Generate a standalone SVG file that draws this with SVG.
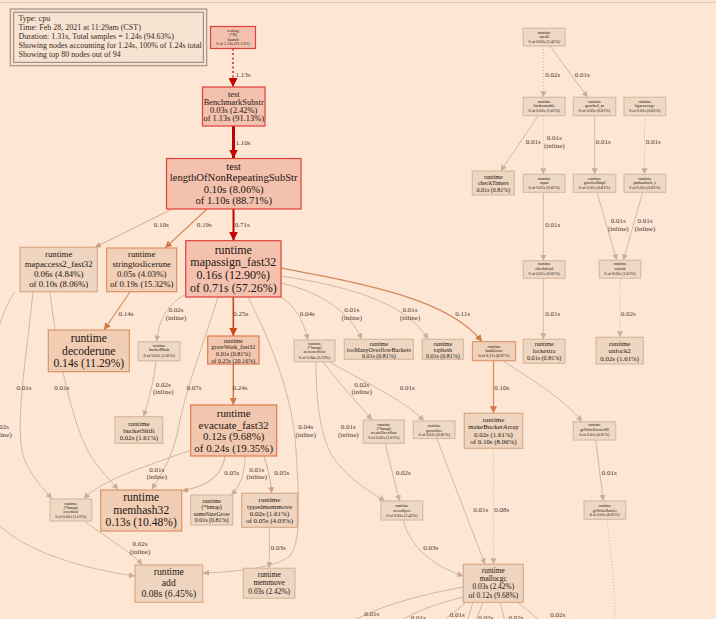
<svg xmlns="http://www.w3.org/2000/svg" width="716" height="619" viewBox="0 0 716 619">
<style>
text{font-family:"Liberation Serif","Times New Roman",serif;text-anchor:middle;fill:#1e1612}
.lg text{text-anchor:start;fill:#3a2a22}
.el text{font-size:7px;fill:#4a3a32}
.hot{fill:#f3c1ad;stroke:#e0403a}
.org{fill:#f2c7af;stroke:#e07a4c}
.sts{fill:#f2d0b8;stroke:#e09063}
.dec{fill:#f0cdb3;stroke:#d99468}
.mid{fill:#efd5bf;stroke:#d6aa88}
.hg{fill:#f1d1b9;stroke:#dc9a6e}
.cool{fill:#efd8c4;stroke:#d8bca6}
.leaf{fill:#efd6c1;stroke:#d8b99f}
rect{stroke-width:1.2}
.e{fill:none;stroke:#d0b8a4;stroke-width:1;marker-end:url(#mg)}
.et{fill:none;stroke:#d2aa8a;stroke-width:1;marker-end:url(#mt)}
.eo{fill:none;stroke:#d58a5c;stroke-width:1.1;marker-end:url(#mo)}
.d{stroke-dasharray:1,2}
</style>
<defs>
<marker id="mg" viewBox="0 0 10 10" refX="10" refY="5" markerUnits="userSpaceOnUse" markerWidth="6" markerHeight="6" orient="auto"><path d="M0,0L10,5L0,10z" fill="#c9ae98"/></marker>
<marker id="mt" viewBox="0 0 10 10" refX="10" refY="5" markerUnits="userSpaceOnUse" markerWidth="6" markerHeight="6" orient="auto"><path d="M0,0L10,5L0,10z" fill="#cf9f7c"/></marker>
<marker id="mo" viewBox="0 0 10 10" refX="10" refY="5" markerUnits="userSpaceOnUse" markerWidth="7" markerHeight="7" orient="auto"><path d="M0,0L10,5L0,10z" fill="#d07a48"/></marker>
<marker id="mr" viewBox="0 0 10 10" refX="10" refY="5" markerUnits="userSpaceOnUse" markerWidth="9" markerHeight="9" orient="auto"><path d="M0,0L10,5L0,10z" fill="#c40000"/></marker>
<marker id="mro" viewBox="0 0 10 10" refX="10" refY="5" markerUnits="userSpaceOnUse" markerWidth="8" markerHeight="8" orient="auto"><path d="M0,0L10,5L0,10z" fill="#c84818"/></marker>
</defs>
<rect x="0" y="0" width="716" height="619" fill="#fee6d4"/>
<line x1="0" y1="2.5" x2="716" y2="2.5" stroke="#e4c8b4" stroke-width="1"/>

<g id="legend" class="lg">
<rect x="10.3" y="9" width="196.4" height="56.7" fill="#f7e3d2" stroke="#a59282" stroke-width="2.2"/>
<rect x="13.6" y="12.3" width="189.8" height="50.1" fill="none" stroke="#a59282" stroke-width="1"/>
<text x="18.5" y="21" font-size="8">Type: cpu</text>
<text x="18.5" y="30" font-size="8">Time: Feb 28, 2021 at 11:29am (CST)</text>
<text x="18.5" y="38.8" font-size="8">Duration: 1.31s, Total samples = 1.24s (94.63%)</text>
<text x="18.5" y="47.7" font-size="8">Showing nodes accounting for 1.24s, 100% of 1.24s total</text>
<text x="18.5" y="56.5" font-size="8">Showing top 80 nodes out of 94</text>
</g>

<g id="edges">
<path d="M233,48.5L233,87" fill="none" stroke="#e05050" stroke-width="2" stroke-dasharray="2,2.5" marker-end="url(#mr)"/>
<path d="M233.5,126L233.5,158.5" fill="none" stroke="#c00000" stroke-width="3" marker-end="url(#mr)"/>
<path d="M233.5,209L233.5,240.7" fill="none" stroke="#c40000" stroke-width="2" marker-end="url(#mr)"/>
<path d="M172,209L95,247.3" class="et"/>
<path d="M207,209L165,248" class="eo"/>
<path d="M130,292L104,330" class="eo"/>
<path d="M15,292C-15,330 -25,470 -5,520C20,552 90,570 135,576" class="e"/>
<path d="M33,292C26,360 14,430 24,458C30,474 42,488 52,498.5" class="e"/>
<path d="M50,292C55,340 70,420 90,455C100,470 110,480 118,489.5" class="e"/>
<path d="M188,293C170,302 158,318 157,341.5" class="e"/>
<path d="M156,361C154,380 149,400 143.5,416.5" class="e"/>
<path d="M233.3,297L233.3,336" fill="none" stroke="#c84818" stroke-width="1.6" marker-end="url(#mro)"/>
<path d="M233.3,364L233.3,405" fill="none" stroke="#d06a3a" stroke-width="1.3" marker-end="url(#mo)"/>
<path d="M218,297C205,340 185,390 178,430C172,460 160,475 152,489.5" class="e"/>
<path d="M248,297C275,350 293,400 296,450C299,500 302,540 290,556C275,568 235,572 203,573" class="e"/>
<path d="M278,295C295,305 303,320 308,340" class="e"/>
<path d="M281,283C320,292 348,310 362,339.3" class="e"/>
<path d="M281,276C340,285 405,300 428,339.3" class="e"/>
<path d="M281,268C370,285 450,300 482,341.7" fill="none" stroke="#cf8a5c" stroke-width="1.2" marker-end="url(#mo)"/>
<path d="M493.5,361L493.5,413.3" fill="none" stroke="#cf8a5c" stroke-width="1.2" marker-end="url(#mo)"/>
<path d="M503,361C530,378 565,400 582,421.7" class="e"/>
<path d="M323,362C340,385 360,405 372,420" class="e"/>
<path d="M328,361C360,380 405,400 424,421" class="e"/>
<path d="M316,362C316,400 320,440 335,460C350,480 370,492 385,501" class="e"/>
<path d="M385,443L399.5,501" class="e"/>
<path d="M437,439L485,564.3" class="e"/>
<path d="M493.5,448.3L493.5,564.3" class="e d"/>
<path d="M403,520C410,545 430,565 463.3,576" class="e"/>
<path d="M191,450C150,465 100,480 84,499" class="e"/>
<path d="M225,456C222,475 210,485 182,491" class="et"/>
<path d="M245,456C245,470 242,485 231,495" class="e"/>
<path d="M264,456C268,470 271,480 271.5,493.3" class="et"/>
<path d="M269.3,527.3L269.3,568.3" class="e"/>
<path d="M85,521.5C110,540 135,555 142,565" class="e"/>
<path d="M543.3,46L543.3,97.3" class="e d"/>
<path d="M550,46L587.7,97.3" class="e"/>
<path d="M538.3,115.7L500.7,171" class="e"/>
<path d="M543.3,115.7L543.3,174.3" class="e d"/>
<path d="M594.7,115.7L594.7,174.3" class="e"/>
<path d="M644.5,115.7L644.5,174.3" class="e d"/>
<path d="M543.3,192.3L543.3,260.7" class="e"/>
<path d="M597,192.3L616.7,260.3" class="e"/>
<path d="M642.7,192.3L623.3,260.3" class="e"/>
<path d="M543.3,278.3L543.3,339.3" class="e"/>
<path d="M620,278.3L620,337.3" class="e d"/>
<path d="M595.7,440L603.3,501" class="e"/>
<path d="M606.7,519.3C612,560 615,590 615,625" fill="none" stroke="#d0b8a4" stroke-dasharray="1,2"/>
<path d="M473,602.3L466,625M483,602.3L474,625M500,602.3L506,625M518,602.3L545,625M463.3,587C420,595 380,605 345,625M463.3,597C440,603 415,610 395,625M466,602.3C458,610 448,615 440,625" fill="none" stroke="#d0b8a4"/>
</g>

<g class="el">
<text x="243" y="76.5">1.13s</text>
<text x="243" y="144.5">1.10s</text>
<text x="161.3" y="226.6">0.10s</text>
<text x="204.3" y="226.6">0.19s</text>
<text x="242.3" y="226.6">0.71s</text>
<text x="126" y="315.6">0.14s</text>
<text x="176" y="311.6">0.02s</text><text x="176" y="319.6">(inline)</text>
<text x="240.7" y="315.6">0.25s</text>
<text x="307.3" y="315.6">0.04s</text>
<text x="351.7" y="311.6">0.01s</text><text x="351.7" y="319.6">(inline)</text>
<text x="410" y="311.6">0.01s</text><text x="410" y="319.6">(inline)</text>
<text x="462.7" y="315.6">0.11s</text>
<text x="163.3" y="386.6">0.02s</text><text x="163.3" y="394">(inline)</text>
<text x="194" y="390">0.07s</text>
<text x="240" y="390">0.24s</text>
<text x="305.7" y="429">0.04s</text><text x="305.7" y="437.3">(inline)</text>
<text x="361.7" y="386.6">0.02s</text><text x="361.7" y="394">(inline)</text>
<text x="407.3" y="390">0.01s</text>
<text x="501.7" y="390">0.10s</text>
<text x="348.3" y="429">0.01s</text><text x="348.3" y="437.3">(inline)</text>
<text x="24" y="390">0.01s</text>
<text x="61.7" y="390">0.01s</text>
<text x="1.5" y="429">0.02s</text><text x="1.5" y="437.3">(inline)</text>
<text x="156.7" y="471.6">0.01s</text><text x="156.7" y="479">(inline)</text>
<text x="231.7" y="474.6">0.05s</text>
<text x="256.7" y="471.6">0.01s</text><text x="256.7" y="479">(inline)</text>
<text x="281.7" y="474.6">0.05s</text>
<text x="403.3" y="474.6">0.02s</text>
<text x="140" y="545.6">0.02s</text><text x="140" y="554">(inline)</text>
<text x="278.3" y="549.6">0.03s</text>
<text x="430.7" y="549.6">0.03s</text>
<text x="480.7" y="512.3">0.01s</text>
<text x="501.7" y="512.3">0.08s</text>
<text x="609.3" y="474.6">0.01s</text>
<text x="552.7" y="76.6">0.02s</text>
<text x="582.3" y="76.6">0.01s</text>
<text x="533.3" y="144">0.01s</text>
<text x="554.3" y="139.6">0.01s</text><text x="554.3" y="148.3">(inline)</text>
<text x="603.3" y="144">0.01s</text>
<text x="653.3" y="144">0.01s</text>
<text x="552.7" y="226.6">0.01s</text>
<text x="618.3" y="223">0.01s</text><text x="618.3" y="230.6">(inline)</text>
<text x="645" y="223">0.01s</text><text x="645" y="230.6">(inline)</text>
<text x="552.7" y="315.6">0.01s</text>
<text x="628.3" y="315.6">0.02s</text>
<text x="371.7" y="616.3">0.01s</text>
<text x="418.3" y="619.6">0.01s</text>
<text x="457.3" y="617.3">0.01s</text>
<text x="485.7" y="620.3">0.02s</text>
<text x="516" y="620.3">0.02s</text>
<text x="557.7" y="616.6">0.02s</text>
</g>

<g id="n-launch"><rect class="hot" x="210.5" y="26.5" width="45" height="22"/>
<text x="233" y="32.2" font-size="4.2">testing</text><text x="233" y="36" font-size="4.2">(*B)</text><text x="233" y="40.5" font-size="4.2">launch</text><text x="233" y="45" font-size="4.2">0 of 1.13s (91.13%)</text></g>

<g id="n-bench"><rect class="hot" x="202.5" y="87" width="62.5" height="39"/>
<text x="233.7" y="97" font-size="8.4">test</text><text x="233.7" y="104.7" font-size="8.4">BenchmarkSubstr</text><text x="233.7" y="112.5" font-size="8.4">0.03s (2.42%)</text><text x="233.7" y="121" font-size="8.4">of 1.13s (91.13%)</text></g>

<g id="n-lengthOf"><rect class="hot" x="166.5" y="158.5" width="134.5" height="50.5"/>
<text x="233.7" y="169.5" font-size="10.6">test</text><text x="233.7" y="181" font-size="10.6">lengthOfNonRepeatingSubStr</text><text x="233.7" y="192.5" font-size="10.6">0.10s (8.06%)</text><text x="233.7" y="204" font-size="10.6">of 1.10s (88.71%)</text></g>

<g id="n-mapaccess2"><rect class="mid" x="20" y="247.3" width="77.3" height="44.4"/>
<text x="58.7" y="257" font-size="8.8">runtime</text><text x="58.7" y="267.2" font-size="8.8">mapaccess2_fast32</text><text x="58.7" y="277.3" font-size="8.8">0.06s (4.84%)</text><text x="58.7" y="287.4" font-size="8.8">of 0.10s (8.06%)</text></g>

<g id="n-stringtoslicerune"><rect class="sts" x="106.7" y="248" width="70" height="43.7"/>
<text x="141.7" y="257" font-size="8.8">runtime</text><text x="141.7" y="267.2" font-size="8.8">stringtoslicerune</text><text x="141.7" y="277.3" font-size="8.8">0.05s (4.03%)</text><text x="141.7" y="287.4" font-size="8.8">of 0.19s (15.32%)</text></g>

<g id="n-mapassign"><rect class="hot" x="185.7" y="240.7" width="95.3" height="56.3"/>
<text x="233.3" y="253.5" font-size="12">runtime</text><text x="233.3" y="266.3" font-size="12">mapassign_fast32</text><text x="233.3" y="279" font-size="12">0.16s (12.90%)</text><text x="233.3" y="291.7" font-size="12">of 0.71s (57.26%)</text></g>

<g id="n-decoderune"><rect class="dec" x="48.3" y="330" width="81" height="41.7"/>
<text x="88.8" y="342" font-size="11.6">runtime</text><text x="88.8" y="354.5" font-size="11.6">decoderune</text><text x="88.8" y="367" font-size="11.6">0.14s (11.29%)</text></g>

<g id="n-bucketMask"><rect class="cool" x="138.3" y="341.7" width="41.7" height="19"/>
<text x="159.2" y="346.5" font-size="4.2">runtime</text><text x="159.2" y="350.5" font-size="4.2">bucketMask</text><text x="159.2" y="356.5" font-size="4.2">0 of 0.02s (1.61%)</text></g>

<g id="n-growWork"><rect class="org" x="207.7" y="336" width="51.3" height="28"/>
<text x="233.3" y="342.8" font-size="6.1">runtime</text><text x="233.3" y="349.4" font-size="6.1">growWork_fast32</text><text x="233.3" y="356.1" font-size="6.1">0.01s (0.81%)</text><text x="233.3" y="362.6" font-size="6.1">of 0.25s (20.16%)</text></g>

<g id="n-newoverflow"><rect class="cool" x="294" y="340" width="41" height="21.7"/>
<text x="314.5" y="345" font-size="4.2">runtime</text><text x="314.5" y="349.2" font-size="4.2">(*hmap)</text><text x="314.5" y="353.4" font-size="4.2">newoverflow</text><text x="314.5" y="359" font-size="4.2">0 of 0.04s (3.23%)</text></g>

<g id="n-tooMany"><rect class="leaf" x="344.3" y="339.3" width="69" height="20"/>
<text x="378.8" y="345.8" font-size="6">runtime</text><text x="378.8" y="351.8" font-size="6">tooManyOverflowBuckets</text><text x="378.8" y="357.8" font-size="6">0.01s (0.81%)</text></g>

<g id="n-tophash"><rect class="leaf" x="422.3" y="339.3" width="41" height="20"/>
<text x="442.8" y="345.8" font-size="6">runtime</text><text x="442.8" y="351.8" font-size="6">tophash</text><text x="442.8" y="357.8" font-size="6">0.01s (0.81%)</text></g>

<g id="n-hashGrow"><rect class="hg" x="472.5" y="341.7" width="43" height="19"/>
<text x="494" y="348.2" font-size="4.2">runtime</text><text x="494" y="352" font-size="4.2">hashGrow</text><text x="494" y="357.2" font-size="4.2">0 of 0.11s (8.87%)</text></g>

<g id="n-bucketShift"><rect class="leaf" x="115" y="416.7" width="47.7" height="26.6"/>
<text x="138.9" y="425.8" font-size="6.8">runtime</text><text x="138.9" y="433" font-size="6.8">bucketShift</text><text x="138.9" y="440.2" font-size="6.8">0.02s (1.61%)</text></g>

<g id="n-evacuate"><rect class="org" x="190.7" y="405" width="86" height="51" stroke="#dd8456"/>
<text x="233.7" y="416.5" font-size="10.9">runtime</text><text x="233.7" y="428.5" font-size="10.9">evacuate_fast32</text><text x="233.7" y="440.2" font-size="10.9">0.12s (9.68%)</text><text x="233.7" y="452" font-size="10.9">of 0.24s (19.35%)</text></g>

<g id="n-createOverflow"><rect class="cool" x="363.3" y="420" width="41" height="23.3"/>
<text x="383.8" y="425.5" font-size="4.2">runtime</text><text x="383.8" y="429.8" font-size="4.2">(*hmap)</text><text x="383.8" y="434.2" font-size="4.2">createOverflow</text><text x="383.8" y="439.2" font-size="4.2">0 of 0.02s (1.61%)</text></g>

<g id="n-growslice"><rect class="cool" x="413.3" y="421" width="41.7" height="17.5"/>
<text x="434.2" y="427.3" font-size="4.2">runtime</text><text x="434.2" y="431.5" font-size="4.2">growslice</text><text x="434.2" y="436.3" font-size="4.2">0 of 0.01s (0.81%)</text></g>

<g id="n-makeBucketArray"><rect class="mid" x="464.3" y="413.3" width="58.4" height="35"/>
<text x="493.5" y="421.8" font-size="6.9">runtime</text><text x="493.5" y="429.2" font-size="6.9">makeBucketArray</text><text x="493.5" y="436.8" font-size="6.9">0.02s (1.61%)</text><text x="493.5" y="444.2" font-size="6.9">of 0.10s (8.06%)</text></g>

<g id="n-gcWriteBarrierR8"><rect class="cool" x="573.3" y="421.7" width="42.4" height="18.3"/>
<text x="594.5" y="426.3" font-size="4">runtime</text><text x="594.5" y="431.3" font-size="4">gcWriteBarrierR8</text><text x="594.5" y="435.8" font-size="4">0 of 0.01s (0.81%)</text></g>

<g id="n-gcWriteBarrier"><rect class="cool" x="584" y="501" width="41.7" height="18.3"/>
<text x="604.8" y="507" font-size="4">runtime</text><text x="604.8" y="511.6" font-size="4">gcWriteBarrier</text><text x="604.8" y="516" font-size="4">0 of 0.01s (0.81%)</text></g>

<g id="n-overflow"><rect class="cool" x="50" y="499" width="41.7" height="22"/>
<text x="70.8" y="505" font-size="4.2">runtime</text><text x="70.8" y="509.2" font-size="4.2">(*bmap)</text><text x="70.8" y="513.4" font-size="4.2">overflow</text><text x="70.8" y="518" font-size="4.2">0 of 0.02s (1.61%)</text></g>

<g id="n-memhash32"><rect class="dec" x="100.7" y="490" width="81" height="41"/>
<text x="141.2" y="501" font-size="11.6">runtime</text><text x="141.2" y="513.5" font-size="11.6">memhash32</text><text x="141.2" y="525.7" font-size="11.6">0.13s (10.48%)</text></g>

<g id="n-sameSizeGrow"><rect class="leaf" x="190.7" y="495" width="42" height="30"/>
<text x="211.7" y="503" font-size="6">runtime</text><text x="211.7" y="509.3" font-size="6">(*hmap)</text><text x="211.7" y="515.6" font-size="6">sameSizeGrow</text><text x="211.7" y="522" font-size="6">0.01s (0.81%)</text></g>

<g id="n-typedmemmove"><rect class="mid" x="241.7" y="493.3" width="55.6" height="34"/>
<text x="269.5" y="501.5" font-size="7">runtime</text><text x="269.5" y="508.8" font-size="7">typedmemmove</text><text x="269.5" y="515.8" font-size="7">0.02s (1.61%)</text><text x="269.5" y="523.2" font-size="7">of 0.05s (4.03%)</text></g>

<g id="n-newobject"><rect class="cool" x="381" y="501" width="41.7" height="19"/>
<text x="401.8" y="507" font-size="4.2">runtime</text><text x="401.8" y="511.8" font-size="4.2">newobject</text><text x="401.8" y="516.8" font-size="4.2">0 of 0.03s (2.42%)</text></g>

<g id="n-add"><rect class="mid" x="135" y="565" width="67.7" height="37.3"/>
<text x="168.8" y="575" font-size="9.7">runtime</text><text x="168.8" y="586.2" font-size="9.7">add</text><text x="168.8" y="597.4" font-size="9.7">0.08s (6.45%)</text></g>

<g id="n-memmove"><rect class="leaf" x="243.3" y="568.3" width="51.7" height="30"/>
<text x="269.2" y="577" font-size="7.4">runtime</text><text x="269.2" y="585" font-size="7.4">memmove</text><text x="269.2" y="593.6" font-size="7.4">0.03s (2.42%)</text></g>

<g id="n-mallocgc"><rect class="mid" x="463.3" y="564.3" width="60" height="38"/>
<text x="493.3" y="573.3" font-size="7.4">runtime</text><text x="493.3" y="581" font-size="7.4">mallocgc</text><text x="493.3" y="589.3" font-size="7.4">0.03s (2.42%)</text><text x="493.3" y="597.6" font-size="7.4">of 0.12s (9.68%)</text></g>

<g id="n-mcall"><rect class="cool" x="523.3" y="28.3" width="41.7" height="17.7"/>
<text x="544.2" y="34" font-size="4.2">runtime</text><text x="544.2" y="37.8" font-size="4.2">mcall</text><text x="544.2" y="43" font-size="4.2">0 of 0.03s (2.42%)</text></g>

<g id="n-findrunnable"><rect class="cool" x="523.3" y="97.3" width="41.7" height="18.3"/>
<text x="544.2" y="103" font-size="4.2">runtime</text><text x="544.2" y="106.8" font-size="4.2">findrunnable</text><text x="544.2" y="112" font-size="4.2">0 of 0.02s (1.61%)</text></g>

<g id="n-gosched_m"><rect class="cool" x="573.3" y="97.3" width="42.4" height="18.3"/>
<text x="594.5" y="103" font-size="4.2">runtime</text><text x="594.5" y="106.8" font-size="4.2">gosched_m</text><text x="594.5" y="112" font-size="4.2">0 of 0.01s (0.81%)</text></g>

<g id="n-bgscavenge"><rect class="cool" x="624" y="97.3" width="41.7" height="18.3"/>
<text x="644.8" y="103" font-size="4.2">runtime</text><text x="644.8" y="106.8" font-size="4.2">bgscavenge</text><text x="644.8" y="112" font-size="4.2">0 of 0.01s (0.81%)</text></g>

<g id="n-checkTimers"><rect class="leaf" x="472.3" y="171" width="42" height="24"/>
<text x="493.3" y="179" font-size="6">runtime</text><text x="493.3" y="185.3" font-size="6">checkTimers</text><text x="493.3" y="191.8" font-size="6">0.01s (0.81%)</text></g>

<g id="n-mput"><rect class="cool" x="523.3" y="174.3" width="41.7" height="18"/>
<text x="544.2" y="180" font-size="4.2">runtime</text><text x="544.2" y="184" font-size="4.2">mput</text><text x="544.2" y="189" font-size="4.2">0 of 0.01s (0.81%)</text></g>

<g id="n-goschedImpl"><rect class="cool" x="573.3" y="174.3" width="42.4" height="18"/>
<text x="594.5" y="180" font-size="4.2">runtime</text><text x="594.5" y="184" font-size="4.2">goschedImpl</text><text x="594.5" y="189" font-size="4.2">0 of 0.01s (0.81%)</text></g>

<g id="n-parkunlock"><rect class="cool" x="624" y="174.3" width="41.7" height="18"/>
<text x="644.8" y="180" font-size="4.2">runtime</text><text x="644.8" y="184" font-size="4.2">parkunlock_c</text><text x="644.8" y="189" font-size="4.2">0 of 0.01s (0.81%)</text></g>

<g id="n-checkdead"><rect class="cool" x="523.3" y="260.7" width="41.7" height="17.6"/>
<text x="544.2" y="265.3" font-size="4.2">runtime</text><text x="544.2" y="269.6" font-size="4.2">checkdead</text><text x="544.2" y="274.6" font-size="4.2">0 of 0.01s (0.81%)</text></g>

<g id="n-unlock"><rect class="cool" x="599.3" y="260.3" width="41.4" height="18"/>
<text x="620" y="265.3" font-size="4.2">runtime</text><text x="620" y="269.6" font-size="4.2">unlock</text><text x="620" y="274.6" font-size="4.2">0 of 0.02s (1.61%)</text></g>

<g id="n-lockextra"><rect class="leaf" x="523.3" y="339.3" width="41.7" height="24"/>
<text x="544.2" y="346" font-size="6.1">runtime</text><text x="544.2" y="353" font-size="6.1">lockextra</text><text x="544.2" y="359.5" font-size="6.1">0.01s (0.81%)</text></g>

<g id="n-unlock2"><rect class="leaf" x="596" y="337.3" width="47.3" height="26.7"/>
<text x="619.7" y="345.8" font-size="6.9">runtime</text><text x="619.7" y="353.2" font-size="6.9">unlock2</text><text x="619.7" y="360.8" font-size="6.9">0.02s (1.61%)</text></g>
</svg>
